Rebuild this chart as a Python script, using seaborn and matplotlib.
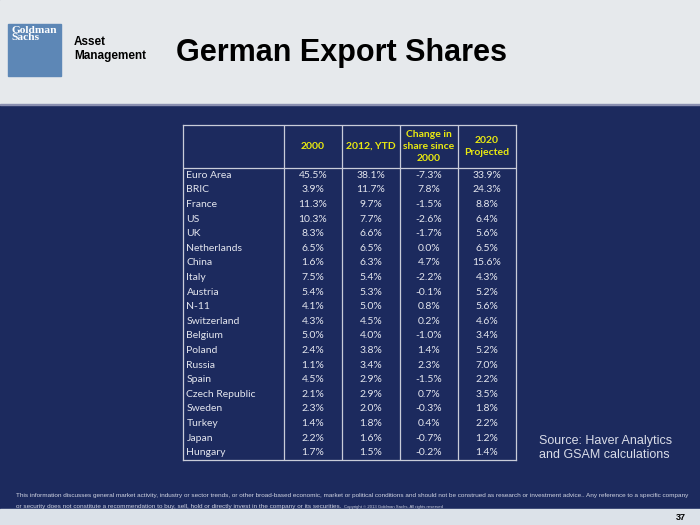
import pandas as pd
import numpy as np
import seaborn as sns
import matplotlib.pyplot as plt
from matplotlib.colors import ListedColormap
from matplotlib.patches import Rectangle

# table data
countries = ["Euro Area", "BRIC", "France", "US", "UK", "Netherlands", "China", "Italy",
             "Austria", "N-11", "Switzerland", "Belgium", "Poland", "Russia", "Spain",
             "Czech Republic", "Sweden", "Turkey", "Japan", "Hungary"]
share_2000 = [45.5, 3.9, 11.3, 10.3, 8.3, 6.5, 1.6, 7.5, 5.4, 4.1, 4.3, 5.0, 2.4, 1.1, 4.5, 2.1, 2.3, 1.4, 2.2, 1.7]
share_2012 = [38.1, 11.7, 9.7, 7.7, 6.6, 6.5, 6.3, 5.4, 5.3, 5.0, 4.5, 4.0, 3.8, 3.4, 2.9, 2.9, 2.0, 1.8, 1.6, 1.5]
change = [-7.3, 7.8, -1.5, -2.6, -1.7, 0.0, 4.7, -2.2, -0.1, 0.8, 0.2, -1.0, 1.4, 2.3, -1.5, 0.7, -0.3, 0.4, -0.7, -0.2]
proj_2020 = [33.9, 24.3, 8.8, 6.4, 5.6, 6.5, 15.6, 4.3, 5.2, 5.6, 4.6, 3.4, 5.2, 7.0, 2.2, 3.5, 1.8, 2.2, 1.2, 1.4]
headers = ["2000", "2012, YTD", "Change in\nshare since\n2000", "2020\nProjected"]

navy = "#1c2a5e"
grey_top = "#e6e9ec"
grey_bot = "#dce2e9"
txt = "#e4e6ee"
yellow = "#eaea10"
rule = "#c9ccd9"

df = pd.DataFrame({"2000": share_2000, "2012": share_2012, "chg": change, "2020": proj_2020},
                  index=countries)
labels = df.map(lambda v: f"{v:.1f}%")

W, H = 700, 525
fig = plt.figure(figsize=(7, 5.25), dpi=100)
fig.patch.set_facecolor(navy)


def px(x, y):
    return x / W, 1 - y / H


# background bands
fig.patches.append(Rectangle((0, 1 - 104 / H), 1, 104 / H, transform=fig.transFigure, color=grey_top, zorder=0))
fig.patches.append(Rectangle((0, 1 - 105 / H), 1, 1.2 / H, transform=fig.transFigure, color="#8a8fb0", zorder=0))
fig.patches.append(Rectangle((0, 0), 1, 16 / H, transform=fig.transFigure, color=grey_bot, zorder=0))

# logo
fig.patches.append(Rectangle(px(8, 76), 53 / W, 52 / H, transform=fig.transFigure, color="#5d87b6", zorder=1))
fig.text(*px(11, 26), "Goldman\nSachs", color="white", fontsize=8.2, fontweight="bold", family="Liberation Serif",
         va="top", ha="left", linespacing=0.75)
fig.text(*px(74, 49), "Asset\nManagement", color="black", fontsize=8.5, fontweight="bold",
         family="Liberation Sans", va="center", ha="left", linespacing=1.15)

# title
fig.text(*px(341, 53), "German Export Shares", color="black", fontsize=22, fontweight="bold",
         family="Liberation Sans", ha="center", va="center")

# table
left, right, top, bottom = 183, 516, 125, 460
ax = fig.add_axes([left / W, 1 - bottom / H, (right - left) / W, (bottom - top) / H])
ax.set_facecolor(navy)
col_w = (right - 284) / 4
L = (284 - left) / col_w
row_h = (bottom - 168) / len(countries)
Hh = (168 - top) / row_h

sns.heatmap(df, ax=ax, cmap=ListedColormap([navy]), cbar=False, annot=labels, fmt="",
            xticklabels=False, yticklabels=False, linewidths=0,
            annot_kws={"color": txt, "fontsize": 7.5, "family": "Lato"})
ax.set_xlim(-L, 4)
ax.set_ylim(len(countries), -Hh)

for i, c in enumerate(countries):
    ax.text(-L + 0.06, i + 0.5, c, color=txt, fontsize=7.5, family="Lato", ha="left", va="center")
for j, h in enumerate(headers):
    ax.text(j + 0.5, -Hh / 2, h, color=yellow, fontsize=7.5, family="Lato", fontweight="bold",
            ha="center", va="center", linespacing=1.45)

for x in range(0, 4):
    ax.axvline(x, color=rule, lw=0.9)
ax.axhline(0, color=rule, lw=0.9)
for s in ax.spines.values():
    s.set_visible(True)
    s.set_color(rule)
    s.set_linewidth(0.9)
ax.set_xlabel("")
ax.set_ylabel("")

# source note
fig.text(*px(539, 448), "Source: Haver Analytics\nand GSAM calculations", color="#d9dce8", fontsize=9,
         family="Liberation Sans", ha="left", va="center", linespacing=1.15)

# disclaimer
fig.text(*px(16, 496), "This information discusses general market activity, industry or sector trends, or other "
         "broad-based economic, market or political conditions and should not be construed as research or "
         "investment advice.. Any reference to a specific company", color="#d0d4e2", fontsize=4.6,
         family="Liberation Sans", ha="left", va="center")
fig.text(*px(16, 506.5), "or security does not constitute a recommendation to buy, sell, hold or directly invest "
         "in the company or its securities.", color="#d0d4e2", fontsize=4.6,
         family="Liberation Sans", ha="left", va="center")
fig.text(*px(344, 507), "Copyright \u00a9 2013 Goldman Sachs. All rights reserved", color="#d0d4e2",
         fontsize=3.1, family="Liberation Sans", ha="left", va="center")
fig.text(*px(686, 517), "37", color="black", fontsize=6.5, fontweight="bold",
         family="Liberation Sans", ha="right", va="center")

fig.savefig("out.png", dpi=100, facecolor=fig.get_facecolor())
